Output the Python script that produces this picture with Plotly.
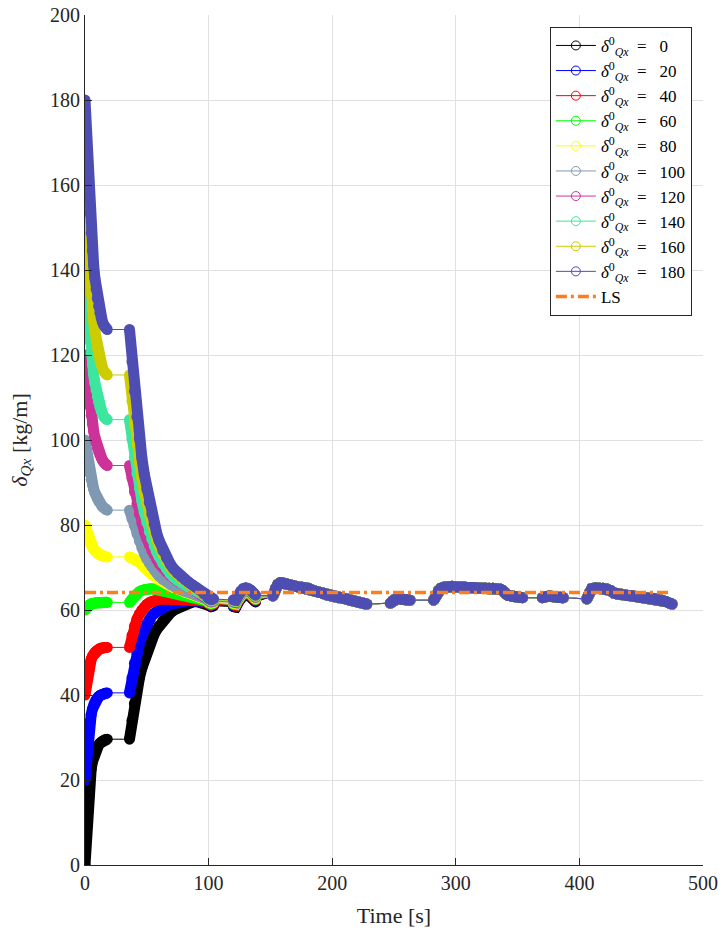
import plotly.graph_objects as go

# ---------------- data ----------------
initial_values = [0, 20, 40, 60, 80, 100, 120, 140, 160, 180]
series_colors = ["#000000", "#0000ff", "#ff0000", "#00ff00", "#ffff00",
                 "#8099b3", "#cc3399", "#3de69e", "#cccc00", "#4d4db3"]

t_phase1 = [0, 1, 2, 3, 4, 5, 6, 7, 8, 9, 10, 11, 12, 13, 14, 15, 16, 17, 18]
phase1_vals = [
    [0, 7.0, 12.5, 17.0, 20.3, 22.6, 24.3, 25.6, 26.5, 27.2, 27.8, 28.2, 28.6, 28.9, 29.1, 29.3, 29.45, 29.55, 29.6],
    [20, 24.5, 28.3, 31.3, 33.7, 35.4, 36.7, 37.7, 38.4, 38.9, 39.3, 39.6, 39.85, 40.0, 40.15, 40.25, 40.35, 40.45, 40.5],
    [40, 42.5, 44.6, 46.2, 47.5, 48.4, 49.1, 49.6, 50.0, 50.3, 50.55, 50.75, 50.9, 51.0, 51.05, 51.1, 51.15, 51.2, 51.2],
    [60, 60.5, 60.9, 61.1, 61.3, 61.45, 61.55, 61.6, 61.65, 61.7, 61.72, 61.75, 61.77, 61.78, 61.8, 61.8, 61.8, 61.8, 61.8],
    [80, 78.8, 77.7, 76.8, 76.0, 75.3, 74.8, 74.3, 73.9, 73.6, 73.35, 73.15, 73.0, 72.85, 72.75, 72.65, 72.6, 72.55, 72.5],
    [100, 97.6, 95.5, 93.7, 92.1, 90.7, 89.5, 88.5, 87.6, 86.8, 86.2, 85.6, 85.2, 84.8, 84.4, 84.1, 83.9, 83.7, 83.5],
    [120, 116.5, 113.3, 110.5, 108.0, 105.8, 103.8, 102.1, 100.6, 99.3, 98.2, 97.3, 96.5, 95.9, 95.3, 94.9, 94.5, 94.2, 94.0],
    [140, 135.0, 130.6, 126.7, 123.3, 120.3, 117.7, 115.4, 113.4, 111.7, 110.2, 108.9, 107.8, 106.9, 106.2, 105.6, 105.2, 104.9, 104.8],
    [160, 153.5, 147.8, 142.7, 138.2, 134.3, 130.9, 128.0, 125.5, 123.4, 121.6, 120.1, 118.9, 117.9, 117.1, 116.4, 115.9, 115.5, 115.3],
    [180, 172.0, 165.0, 158.8, 153.4, 148.7, 144.6, 141.1, 138.1, 135.5, 133.3, 131.5, 130.0, 128.8, 127.9, 127.2, 126.6, 126.3, 126.0],
]

t_phase2 = [36, 38, 40, 42, 44, 46, 48, 50, 52, 54, 56, 58, 60, 63, 66, 69, 72, 75, 78, 81, 84, 87, 90, 93, 96, 99]
phase2_vals = [
    [29.6, 34.0, 38.0, 41.3, 44.0, 46.3, 48.3, 50.1, 51.7, 53.1, 54.3, 55.4, 56.3, 57.5, 58.5, 59.3, 60.0, 60.5, 61.0, 61.4, 61.7, 61.9, 62.0, 61.9, 61.6, 61.3],
    [40.5, 44.0, 47.5, 50.0, 52.2, 54.0, 55.6, 56.8, 57.8, 58.6, 59.2, 59.7, 60.1, 60.6, 61.0, 61.3, 61.6, 61.8, 62.0, 62.1, 62.2, 62.2, 62.2, 62.1, 61.9, 61.6],
    [51.2, 54.0, 56.2, 57.8, 59.0, 60.0, 60.7, 61.3, 61.7, 62.0, 62.2, 62.4, 62.5, 62.6, 62.6, 62.6, 62.6, 62.6, 62.5, 62.5, 62.5, 62.4, 62.4, 62.3, 62.1, 61.8],
    [61.8, 62.6, 63.3, 63.8, 64.3, 64.6, 64.8, 64.9, 65.0, 65.0, 64.9, 64.8, 64.7, 64.5, 64.3, 64.1, 63.9, 63.7, 63.6, 63.4, 63.3, 63.2, 63.0, 62.8, 62.5, 62.1],
    [72.5, 72.3, 72.0, 71.6, 71.2, 70.6, 70.0, 69.4, 68.9, 68.4, 67.9, 67.5, 67.1, 66.6, 66.1, 65.6, 65.2, 64.9, 64.6, 64.2, 63.9, 63.6, 63.3, 63.0, 62.6, 62.3],
    [83.5, 81.5, 79.9, 78.0, 76.2, 74.6, 73.3, 72.1, 71.1, 70.2, 69.4, 68.7, 68.0, 67.2, 66.6, 66.0, 65.5, 65.1, 64.7, 64.4, 64.1, 63.8, 63.5, 63.2, 62.8, 62.4],
    [94.0, 91.0, 87.8, 85.0, 82.6, 80.4, 78.5, 76.8, 75.3, 74.0, 72.9, 71.9, 71.0, 69.9, 68.9, 68.1, 67.4, 66.8, 66.3, 65.8, 65.3, 64.8, 64.3, 63.7, 63.1, 62.6],
    [104.8, 100.2, 95.9, 92.1, 88.7, 85.7, 83.0, 80.6, 78.5, 76.7, 75.1, 73.7, 72.5, 70.9, 69.6, 68.5, 67.6, 66.9, 66.3, 65.8, 65.3, 64.9, 64.5, 64.0, 63.4, 62.8],
    [115.3, 109.2, 103.7, 98.9, 94.7, 91.0, 87.8, 85.0, 82.5, 80.3, 78.3, 76.6, 75.1, 73.1, 71.5, 70.2, 69.1, 68.2, 67.4, 66.8, 66.2, 65.6, 65.0, 64.4, 63.7, 63.0],
    [126.0, 118.5, 111.5, 105.5, 100.3, 95.8, 91.9, 88.4, 85.3, 82.6, 80.2, 78.1, 76.3, 74.0, 72.2, 70.8, 69.6, 68.6, 67.8, 67.1, 66.5, 65.9, 65.3, 64.6, 63.8, 63.1],
]

# settling part, each series sits slightly below the next one here
settle_offset = [-1.6, -1.4, -1.2, -1.0, -0.8, -0.6, -0.45, -0.3, -0.15, 0.0]
t_settle_a = [100, 102, 104]
settle_a = [62.7, 62.4, 62.6]
t_settle_b = [120, 122, 124, 126, 128, 130, 132, 134, 136, 138]
settle_b = [62.4, 62.3, 63.4, 64.5, 65.0, 65.2, 65.1, 64.7, 64.1, 63.5]

# common later runs (all series coincide)
t_run_c = [152, 154, 156, 158, 160, 163, 166, 169, 172, 175, 178, 181, 184, 187, 190, 193, 196, 199, 202, 205, 208, 211, 214, 217, 220, 223, 226, 228]
run_c = [63.3, 65.0, 66.0, 66.4, 66.4, 66.2, 65.9, 65.7, 65.5, 65.4, 65.3, 65.1, 64.7, 64.4, 64.1, 63.8, 63.5, 63.3, 63.1, 62.9, 62.8, 62.6, 62.3, 62.1, 61.9, 61.7, 61.5, 61.4]
t_run_d = [247, 249, 251, 253, 255, 257, 259, 261, 263]
run_d = [61.6, 62.2, 62.6, 62.7, 62.6, 62.5, 62.5, 62.4, 62.3]
t_run_e = [282, 284, 286, 288, 291, 294, 297, 300, 303, 306, 309, 312, 315, 318, 321, 324, 327, 330, 333, 336, 338, 340, 342, 345, 348, 351, 354]
run_e = [62.3, 63.5, 64.6, 65.1, 65.4, 65.5, 65.6, 65.5, 65.4, 65.4, 65.3, 65.3, 65.3, 65.2, 65.2, 65.2, 65.1, 65.1, 65.0, 64.9, 64.6, 63.9, 63.5, 63.3, 63.1, 63.0, 62.9]
t_run_f = [370, 373, 376, 379, 382, 385, 387]
run_f = [62.9, 63.2, 63.3, 63.1, 63.0, 63.0, 62.9]
t_run_g = [406, 408, 410, 413, 416, 419, 422, 425, 428, 431, 434, 437, 440, 443, 446, 449, 452, 455, 458, 461, 464, 467, 470, 473, 475]
run_g = [62.6, 64.0, 65.0, 65.2, 65.2, 65.1, 65.0, 64.6, 64.0, 63.7, 63.6, 63.5, 63.4, 63.3, 63.2, 63.0, 62.9, 62.9, 62.8, 62.7, 62.5, 62.3, 62.0, 61.6, 61.4]

ls_t = [0, 474]
ls_value = [64.1, 64.1]

x_ticks = [0, 100, 200, 300, 400, 500]
y_ticks = [0, 20, 40, 60, 80, 100, 120, 140, 160, 180, 200]

# ---------------- figure ----------------
FONT = "Liberation Serif"
AXC = "#262626"
NB = "\u00a0"
fig = go.Figure()

for i, v0 in enumerate(initial_values):
    col = series_colors[i]
    off = settle_offset[i]
    runs = [
        (t_phase1, phase1_vals[i]),
        (t_phase2 + t_settle_a, phase2_vals[i] + [v + off for v in settle_a]),
        (t_settle_b, [v + off for v in settle_b]),
        (t_run_c, run_c), (t_run_d, run_d), (t_run_e, run_e),
        (t_run_f, run_f), (t_run_g, run_g),
    ]
    xs_all, ys_all, xs_b, ys_b = [], [], [], []
    for tx, ty in runs:
        xs_all += list(tx); ys_all += list(ty)
        xs_b += list(tx) + [None]; ys_b += list(ty) + [None]
    fig.add_trace(go.Scatter(x=xs_all, y=ys_all, mode="lines",
                             line=dict(color=col, width=1), showlegend=False,
                             hoverinfo="skip"))
    fig.add_trace(go.Scatter(x=xs_b, y=ys_b, mode="lines+markers",
                             line=dict(color=col, width=11),
                             marker=dict(symbol="circle", size=11, color=col, line=dict(width=0)),
                             connectgaps=False, showlegend=False, hoverinfo="skip"))

for i, v0 in enumerate(initial_values):
    fig.add_trace(go.Scatter(
        x=[None], y=[None], mode="lines+markers",
        name=f"<i>δ</i><sup>0</sup><sub><i>Qx</i></sub>{NB*2}={NB*3}{v0}",
        legendgroup=f"g{i}",
        line=dict(color=series_colors[i], width=1),
        marker=dict(symbol="circle-open", size=9, color=series_colors[i], line=dict(width=1)),
    ))

fig.add_trace(go.Scatter(x=ls_t, y=ls_value, mode="lines", name="LS", legendgroup="ls",
                         line=dict(color="#ff7d1a", width=3.5, dash="11px,4px,3px,4px")))

fig.update_layout(
    width=723, height=935,
    margin=dict(l=85, r=20, t=15, b=70, autoexpand=False),
    paper_bgcolor="white", plot_bgcolor="white",
    font=dict(family=FONT, size=20, color=AXC),
    showlegend=True,
    legend=dict(x=0.982, y=0.986, xanchor="right", yanchor="top",
                bgcolor="white", bordercolor=AXC, borderwidth=1,
                font=dict(family=FONT, size=17, color="#000000"),
                itemwidth=40, tracegroupgap=0),
    xaxis=dict(range=[0, 500], tickvals=x_ticks, ticks="inside", ticklen=7,
               tickcolor=AXC, showline=True, linecolor=AXC, linewidth=1,
               showgrid=True, gridcolor="#e0e0e0", gridwidth=1, zeroline=False,
               mirror=False, automargin=False, ticklabeloverflow="allow",
               title=dict(text="Time [s]", font=dict(size=22), standoff=14),
               tickfont=dict(size=20)),
    yaxis=dict(range=[0, 200], tickvals=y_ticks, ticks="inside", ticklen=7,
               tickcolor=AXC, showline=True, linecolor=AXC, linewidth=1,
               showgrid=True, gridcolor="#e0e0e0", gridwidth=1, zeroline=False,
               mirror=False, automargin=False, ticklabeloverflow="allow",
               title=dict(text="<i>δ</i><sub><i>Qx</i></sub> [kg/m]", font=dict(size=22), standoff=16),
               tickfont=dict(size=20)),
)

fig.write_html("out.html", config={"displayModeBar": False},
               post_script="document.body.style.margin='0';document.body.style.overflow='hidden';")
